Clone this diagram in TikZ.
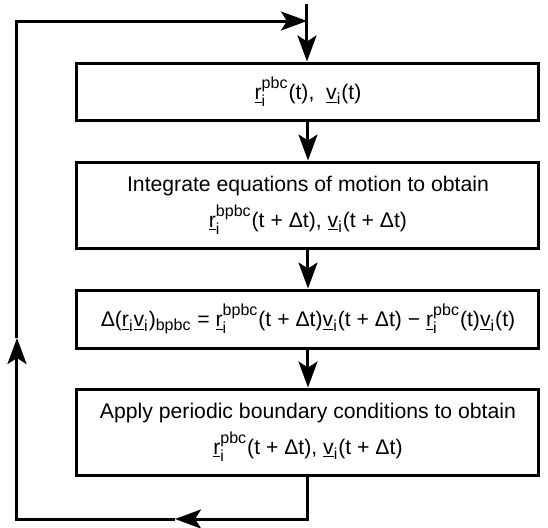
\documentclass[tikz,border=0pt]{standalone}
\usepackage{fontspec}
\setmainfont{Liberation Sans}
\usetikzlibrary{arrows.meta}
\newcommand{\scr}[1]{\mbox{\fontsize{8}{9}\selectfont #1}}
\newcommand{\rvec}{\underline{\mbox{r}}}
\newcommand{\vvec}{\underline{\mbox{v}}}

\begin{document}
\begin{tikzpicture}[x=0.5pt,y=-0.5pt,
  stepbox/.style={draw,line width=1.5pt,minimum width=231pt,inner sep=0pt,align=center,font=\fontsize{10.6}{18}\selectfont},
  flowline/.style={line width=1.5pt},
  flow/.style={flowline,-{Stealth[length=13pt,width=9.5pt,inset=3pt]}}]
\useasboundingbox (0,0) rectangle (548,527);
\node[stepbox,minimum height=28.5pt] (init) at (308,91.5) {$\rvec_{\scr{i}}^{\scr{pbc}}$(t),\ \ $\vvec_{\scr{i}}$(t)};
\node[stepbox,minimum height=43pt] (integ) at (308,205) {Integrate equations of motion to obtain\\$\rvec_{\scr{i}}^{\scr{bpbc}}$(t + Δt), $\vvec_{\scr{i}}$(t + Δt)};
\node[stepbox,minimum height=29pt] (delta) at (308,319) {Δ($\rvec_{\scr{i}}\vvec_{\scr{i}}$)$_{\scr{bpbc}}$ = $\rvec_{\scr{i}}^{\scr{bpbc}}$(t + Δt)$\vvec_{\scr{i}}$(t + Δt) − $\rvec_{\scr{i}}^{\scr{pbc}}$(t)$\vvec_{\scr{i}}$(t)};
\node[stepbox,minimum height=43pt] (pbc) at (308,432) {Apply periodic boundary conditions to obtain\\$\rvec_{\scr{i}}^{\scr{pbc}}$(t + Δt), $\vvec_{\scr{i}}$(t + Δt)};
\coordinate (entry) at (307,4);
\coordinate (topR) at (307,21);
\coordinate (topL) at (17,21);
\coordinate (leftA) at (17,338);
\coordinate (botL) at (17,519);
\coordinate (botA) at (175,519);
\draw[flowline] (entry) -- (topR);
\draw[flow] (topR) -- (init.north -| topR);
\draw[flow] (init) -- (integ);
\draw[flow] (integ) -- (delta);
\draw[flow] (delta) -- (pbc);
\draw[flow] (pbc) |- (botA);
\draw[flow] (botA) -- (botL) -- (leftA);
\draw[flow] (leftA) -- (topL) -- (topR);
\end{tikzpicture}
\end{document}
